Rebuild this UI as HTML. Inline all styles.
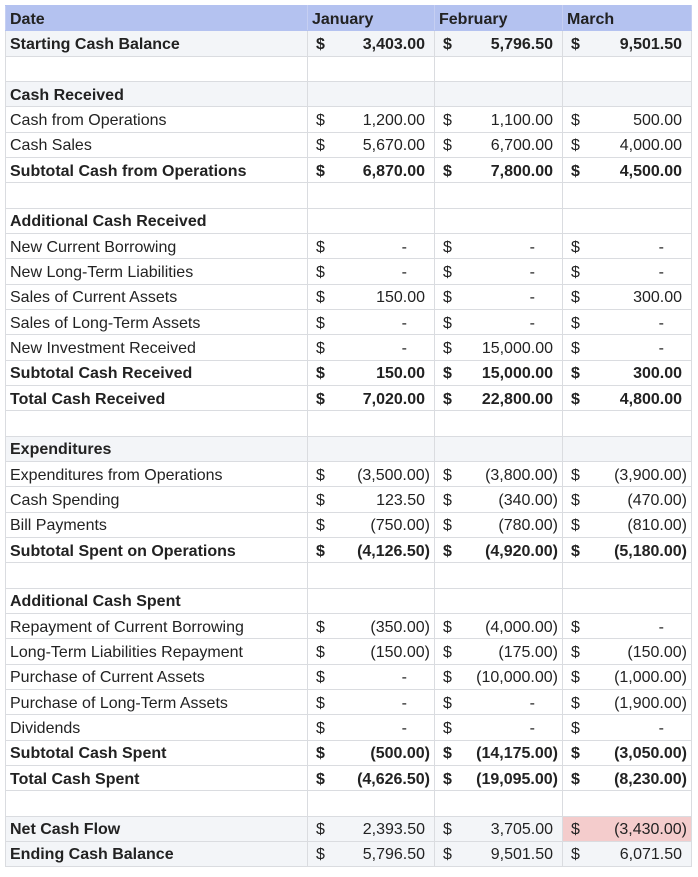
<!DOCTYPE html>
<html><head><meta charset="utf-8"><style>
body{margin:0;background:#fff;width:698px;height:877px;overflow:hidden;font-family:"Liberation Sans",Arial,sans-serif;color:#222;}
table{position:absolute;left:5px;top:5px;border-collapse:collapse;table-layout:fixed;width:686px;font-size:16px;}
tr{height:25.33px;}
td{border:1px solid #dadce0;height:21.33px;padding:3px 4px 0 4px;white-space:nowrap;overflow:hidden;line-height:20px;box-sizing:border-box;}
td.m{padding:3px 4px 0 8px;}
td.m span.d{float:left;}
td.m span.v{float:right;}
tr.b td{font-weight:bold;}
tr.h td{background:#b4c2f0;font-weight:bold;border-color:#b4c2f0 #c6cff2;}
tr.s td{background:#f3f5f8;}
td.red{background:#f4cccc !important;}
.p{padding-right:5px;display:inline-block}
.z{padding-right:23px;display:inline-block}
</style></head><body>
<table>
<colgroup><col style="width:302px"><col style="width:127px"><col style="width:128px"><col style="width:129px"></colgroup>
<tr class="h"><td>Date</td><td>January</td><td>February</td><td>March</td></tr>
<tr class="s b"><td>Starting Cash Balance</td><td class="m"><span class="d">$</span><span class="v p">3,403.00</span></td><td class="m"><span class="d">$</span><span class="v p">5,796.50</span></td><td class="m"><span class="d">$</span><span class="v p">9,501.50</span></td></tr>
<tr><td></td><td></td><td></td><td></td></tr>
<tr class="s b"><td>Cash Received</td><td></td><td></td><td></td></tr>
<tr><td>Cash from Operations</td><td class="m"><span class="d">$</span><span class="v p">1,200.00</span></td><td class="m"><span class="d">$</span><span class="v p">1,100.00</span></td><td class="m"><span class="d">$</span><span class="v p">500.00</span></td></tr>
<tr><td>Cash Sales</td><td class="m"><span class="d">$</span><span class="v p">5,670.00</span></td><td class="m"><span class="d">$</span><span class="v p">6,700.00</span></td><td class="m"><span class="d">$</span><span class="v p">4,000.00</span></td></tr>
<tr class="b"><td>Subtotal Cash from Operations</td><td class="m"><span class="d">$</span><span class="v p">6,870.00</span></td><td class="m"><span class="d">$</span><span class="v p">7,800.00</span></td><td class="m"><span class="d">$</span><span class="v p">4,500.00</span></td></tr>
<tr><td></td><td></td><td></td><td></td></tr>
<tr class="b"><td>Additional Cash Received</td><td></td><td></td><td></td></tr>
<tr><td>New Current Borrowing</td><td class="m"><span class="d">$</span><span class="v z">-</span></td><td class="m"><span class="d">$</span><span class="v z">-</span></td><td class="m"><span class="d">$</span><span class="v z">-</span></td></tr>
<tr><td>New Long-Term Liabilities</td><td class="m"><span class="d">$</span><span class="v z">-</span></td><td class="m"><span class="d">$</span><span class="v z">-</span></td><td class="m"><span class="d">$</span><span class="v z">-</span></td></tr>
<tr><td>Sales of Current Assets</td><td class="m"><span class="d">$</span><span class="v p">150.00</span></td><td class="m"><span class="d">$</span><span class="v z">-</span></td><td class="m"><span class="d">$</span><span class="v p">300.00</span></td></tr>
<tr><td>Sales of Long-Term Assets</td><td class="m"><span class="d">$</span><span class="v z">-</span></td><td class="m"><span class="d">$</span><span class="v z">-</span></td><td class="m"><span class="d">$</span><span class="v z">-</span></td></tr>
<tr><td>New Investment Received</td><td class="m"><span class="d">$</span><span class="v z">-</span></td><td class="m"><span class="d">$</span><span class="v p">15,000.00</span></td><td class="m"><span class="d">$</span><span class="v z">-</span></td></tr>
<tr class="b"><td>Subtotal Cash Received</td><td class="m"><span class="d">$</span><span class="v p">150.00</span></td><td class="m"><span class="d">$</span><span class="v p">15,000.00</span></td><td class="m"><span class="d">$</span><span class="v p">300.00</span></td></tr>
<tr class="b"><td>Total Cash Received</td><td class="m"><span class="d">$</span><span class="v p">7,020.00</span></td><td class="m"><span class="d">$</span><span class="v p">22,800.00</span></td><td class="m"><span class="d">$</span><span class="v p">4,800.00</span></td></tr>
<tr><td></td><td></td><td></td><td></td></tr>
<tr class="s b"><td>Expenditures</td><td></td><td></td><td></td></tr>
<tr><td>Expenditures from Operations</td><td class="m"><span class="d">$</span><span class="v">(3,500.00)</span></td><td class="m"><span class="d">$</span><span class="v">(3,800.00)</span></td><td class="m"><span class="d">$</span><span class="v">(3,900.00)</span></td></tr>
<tr><td>Cash Spending</td><td class="m"><span class="d">$</span><span class="v p">123.50</span></td><td class="m"><span class="d">$</span><span class="v">(340.00)</span></td><td class="m"><span class="d">$</span><span class="v">(470.00)</span></td></tr>
<tr><td>Bill Payments</td><td class="m"><span class="d">$</span><span class="v">(750.00)</span></td><td class="m"><span class="d">$</span><span class="v">(780.00)</span></td><td class="m"><span class="d">$</span><span class="v">(810.00)</span></td></tr>
<tr class="b"><td>Subtotal Spent on Operations</td><td class="m"><span class="d">$</span><span class="v">(4,126.50)</span></td><td class="m"><span class="d">$</span><span class="v">(4,920.00)</span></td><td class="m"><span class="d">$</span><span class="v">(5,180.00)</span></td></tr>
<tr><td></td><td></td><td></td><td></td></tr>
<tr class="b"><td>Additional Cash Spent</td><td></td><td></td><td></td></tr>
<tr><td>Repayment of Current Borrowing</td><td class="m"><span class="d">$</span><span class="v">(350.00)</span></td><td class="m"><span class="d">$</span><span class="v">(4,000.00)</span></td><td class="m"><span class="d">$</span><span class="v z">-</span></td></tr>
<tr><td>Long-Term Liabilities Repayment</td><td class="m"><span class="d">$</span><span class="v">(150.00)</span></td><td class="m"><span class="d">$</span><span class="v">(175.00)</span></td><td class="m"><span class="d">$</span><span class="v">(150.00)</span></td></tr>
<tr><td>Purchase of Current Assets</td><td class="m"><span class="d">$</span><span class="v z">-</span></td><td class="m"><span class="d">$</span><span class="v">(10,000.00)</span></td><td class="m"><span class="d">$</span><span class="v">(1,000.00)</span></td></tr>
<tr><td>Purchase of Long-Term Assets</td><td class="m"><span class="d">$</span><span class="v z">-</span></td><td class="m"><span class="d">$</span><span class="v z">-</span></td><td class="m"><span class="d">$</span><span class="v">(1,900.00)</span></td></tr>
<tr><td>Dividends</td><td class="m"><span class="d">$</span><span class="v z">-</span></td><td class="m"><span class="d">$</span><span class="v z">-</span></td><td class="m"><span class="d">$</span><span class="v z">-</span></td></tr>
<tr class="b"><td>Subtotal Cash Spent</td><td class="m"><span class="d">$</span><span class="v">(500.00)</span></td><td class="m"><span class="d">$</span><span class="v">(14,175.00)</span></td><td class="m"><span class="d">$</span><span class="v">(3,050.00)</span></td></tr>
<tr class="b"><td>Total Cash Spent</td><td class="m"><span class="d">$</span><span class="v">(4,626.50)</span></td><td class="m"><span class="d">$</span><span class="v">(19,095.00)</span></td><td class="m"><span class="d">$</span><span class="v">(8,230.00)</span></td></tr>
<tr><td></td><td></td><td></td><td></td></tr>
<tr class="s"><td><b>Net Cash Flow</b></td><td class="m"><span class="d">$</span><span class="v p">2,393.50</span></td><td class="m"><span class="d">$</span><span class="v p">3,705.00</span></td><td class="m red"><span class="d">$</span><span class="v">(3,430.00)</span></td></tr>
<tr class="s"><td><b>Ending Cash Balance</b></td><td class="m"><span class="d">$</span><span class="v p">5,796.50</span></td><td class="m"><span class="d">$</span><span class="v p">9,501.50</span></td><td class="m"><span class="d">$</span><span class="v p">6,071.50</span></td></tr>
</table>
</body></html>
